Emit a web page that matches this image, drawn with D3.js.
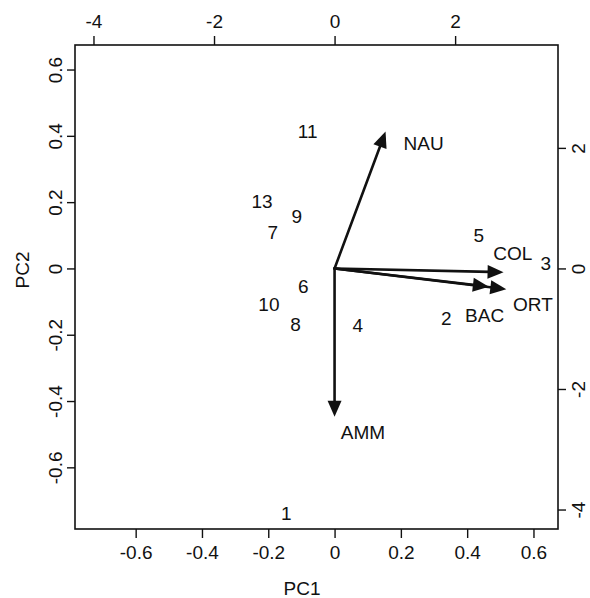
<!DOCTYPE html>
<html>
<head>
<meta charset="utf-8">
<script src="https://cdn.jsdelivr.net/npm/d3@7"></script>
<style>
  body { margin: 0; background: #fff; }
  svg text { font-family: "Liberation Sans", Arial, Helvetica, sans-serif; fill: #111; }
</style>
</head>
<body>
<svg id="chart" width="590" height="598"></svg>
<script>
// observation scores (bottom / left axes)
const obsLabels = ["1", "2", "3", "4", "5", "6", "7", "8", "9", "10", "11", "13"];
const obsPC1 = [-0.146, 0.337, 0.637, 0.070, 0.435, -0.094, -0.186, -0.118, -0.114, -0.198, -0.081, -0.219];
const obsPC2 = [-0.738, -0.150, 0.016, -0.170, 0.101, -0.053, 0.109, -0.167, 0.158, -0.107, 0.413, 0.202];

// variable loadings (top / right axes)
const varNames = ["NAU", "COL", "ORT", "BAC", "AMM"];
const varPC1 = [0.846, 2.804, 2.849, 2.560, 0.0];
const varPC2 = [2.270, -0.063, -0.345, -0.302, -2.459];
const varLabelX = [1.477, 2.958, 3.290, 2.489, 0.470];
const varLabelY = [2.077, 0.252, -0.589, -0.772, -2.718];

const pcTicks = [-0.6, -0.4, -0.2, 0, 0.2, 0.4, 0.6];
const loadTicks = [-4, -2, 0, 2];
const ratio = 5.5;

const box = { left: 75, right: 558, top: 45, bottom: 529 };
const fontSize = 19;

const svg = d3.select("#chart");

const x = d3.scaleLinear().domain([-0.783, 0.674]).range([box.left, box.right]);
const y = d3.scaleLinear().domain([-0.786, 0.674]).range([box.bottom, box.top]);
const x2 = d3.scaleLinear().domain(x.domain().map(d => d * ratio)).range(x.range());
const y2 = d3.scaleLinear().domain(y.domain().map(d => d * ratio)).range(y.range());

const fmt = d => (d === 0 ? "0" : String(d));

function styleAxis(g) {
  g.select(".domain").remove();
  g.selectAll(".tick line").attr("stroke", "#111").attr("stroke-width", 1.4);
  g.selectAll(".tick text").attr("font-size", fontSize).attr("fill", "#111");
}

// bottom
svg.append("g")
  .attr("transform", `translate(0,${box.bottom})`)
  .call(d3.axisBottom(x).tickValues(pcTicks).tickFormat(fmt).tickSize(9))
  .call(styleAxis)
  .call(g => g.selectAll(".tick text").attr("y", 30).attr("dy", 0));

// top
svg.append("g")
  .attr("transform", `translate(0,${box.top})`)
  .call(d3.axisTop(x2).tickValues(loadTicks).tickFormat(fmt).tickSize(9))
  .call(styleAxis)
  .call(g => g.selectAll(".tick text").attr("y", -17).attr("dy", 0));

// left
svg.append("g")
  .attr("transform", `translate(${box.left},0)`)
  .call(d3.axisLeft(y).tickValues(pcTicks).tickFormat(fmt).tickSize(8))
  .call(styleAxis)
  .call(g => g.selectAll(".tick text")
    .attr("transform", "rotate(-90)")
    .attr("x", 0).attr("y", -13).attr("dy", 0)
    .attr("text-anchor", "middle"));

// right
svg.append("g")
  .attr("transform", `translate(${box.right},0)`)
  .call(d3.axisRight(y2).tickValues(loadTicks).tickFormat(fmt).tickSize(8))
  .call(styleAxis)
  .call(g => g.selectAll(".tick text")
    .attr("transform", "rotate(-90)")
    .attr("x", 0).attr("y", 27).attr("dy", 0)
    .attr("text-anchor", "middle"));

// frame
svg.append("rect")
  .attr("x", box.left).attr("y", box.top)
  .attr("width", box.right - box.left).attr("height", box.bottom - box.top)
  .attr("fill", "none").attr("stroke", "#111").attr("stroke-width", 1.6);

// axis titles
svg.append("text")
  .attr("x", 302).attr("y", 595)
  .attr("text-anchor", "middle").attr("font-size", fontSize)
  .text("PC1");

svg.append("text")
  .attr("transform", "translate(29,270) rotate(-90)")
  .attr("text-anchor", "middle").attr("font-size", fontSize)
  .text("PC2");

// observation labels
svg.append("g")
  .selectAll("text")
  .data(obsLabels)
  .join("text")
  .attr("x", (d, i) => x(obsPC1[i]))
  .attr("y", (d, i) => y(obsPC2[i]))
  .attr("dy", "0.36em")
  .attr("text-anchor", "middle")
  .attr("font-size", fontSize)
  .text(d => d);

// loading arrows
const headLen = 16, headHalf = 7;
const x0 = x2(0), y0 = y2(0);
const arrows = svg.append("g");

varNames.forEach((name, i) => {
  const tx = x2(varPC1[i]), ty = y2(varPC2[i]);
  const dx = tx - x0, dy = ty - y0;
  const len = Math.sqrt(dx * dx + dy * dy);
  const ux = dx / len, uy = dy / len;
  const bx = tx - ux * headLen, by = ty - uy * headLen;

  arrows.append("line")
    .attr("x1", x0).attr("y1", y0)
    .attr("x2", bx + ux * 2).attr("y2", by + uy * 2)
    .attr("stroke", "#111").attr("stroke-width", 2.6)
    .attr("stroke-linecap", "round");

  arrows.append("polygon")
    .attr("points", [
      [tx, ty],
      [bx - uy * headHalf, by + ux * headHalf],
      [bx + uy * headHalf, by - ux * headHalf]
    ].map(p => p.join(",")).join(" "))
    .attr("fill", "#111");

  svg.append("text")
    .attr("x", x2(varLabelX[i]))
    .attr("y", y2(varLabelY[i]))
    .attr("dy", "0.36em")
    .attr("text-anchor", "middle")
    .attr("font-size", fontSize)
    .text(name);
});
</script>
</body>
</html>
